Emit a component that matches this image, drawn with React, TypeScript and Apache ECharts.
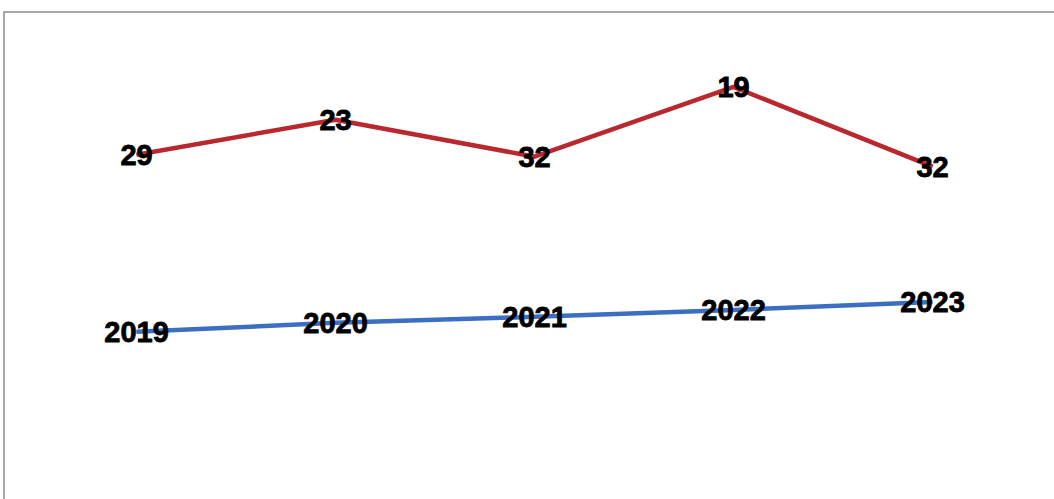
import React, { useEffect, useRef } from "react";
import * as echarts from "echarts";

// Categories (hidden x-axis)
const categories = ["2019", "2020", "2021", "2022", "2023"];

// Red series: shown labels and plotted heights (0-100 hidden scale)
const redLabels = ["29", "23", "32", "19", "32"];
const redValues = [69.0, 76.0, 68.6, 82.6, 66.6];

// Blue series: shown labels and plotted heights (0-100 hidden scale)
const blueLabels = ["2019", "2020", "2021", "2022", "2023"];
const blueValues = [33.5, 35.3, 36.5, 37.9, 39.5];

export default function App() {
  const ref = useRef<HTMLDivElement>(null);

  useEffect(() => {
    document.body.style.margin = "0";
    if (!ref.current) return;
    const chart = echarts.init(ref.current, undefined, { renderer: "svg" });
    const labelStyle = {
      show: true,
      position: "inside" as const,
      color: "#000",
      fontFamily: "Liberation Sans, Arial, sans-serif",
      fontWeight: "bold" as const,
      fontSize: 29,
      textBorderColor: "#000",
      textBorderWidth: 0.8,
    };
    chart.setOption({
      animation: false,
      backgroundColor: "#fff",
      graphic: [
        {
          type: "rect",
          shape: { x: 4, y: 12, width: 1070, height: 500 },
          style: { fill: "none", stroke: "#a8a8a8", lineWidth: 2 },
          z: 0,
        },
      ],
      grid: { left: 37, right: 22, top: 0, bottom: 0 },
      xAxis: {
        type: "category",
        data: categories,
        boundaryGap: true,
        show: false,
      },
      yAxis: { type: "value", min: 0, max: 100, show: false },
      series: [
        {
          type: "line",
          data: redValues,
          symbol: "circle",
          symbolSize: 1,
          lineStyle: { color: "#b8282e", width: 4.5 },
          itemStyle: { color: "#b8282e" },
          label: {
            ...labelStyle,
            formatter: (p: any) => redLabels[p.dataIndex],
          },
          z: 3,
        },
        {
          type: "line",
          data: blueValues,
          symbol: "circle",
          symbolSize: 1,
          lineStyle: { color: "#3c6fc2", width: 4.5 },
          itemStyle: { color: "#3c6fc2" },
          label: {
            ...labelStyle,
            formatter: (p: any) => blueLabels[p.dataIndex],
          },
          z: 3,
        },
      ],
    });
    return () => chart.dispose();
  }, []);

  return <div ref={ref} style={{ width: 1054, height: 499 }} />;
}
